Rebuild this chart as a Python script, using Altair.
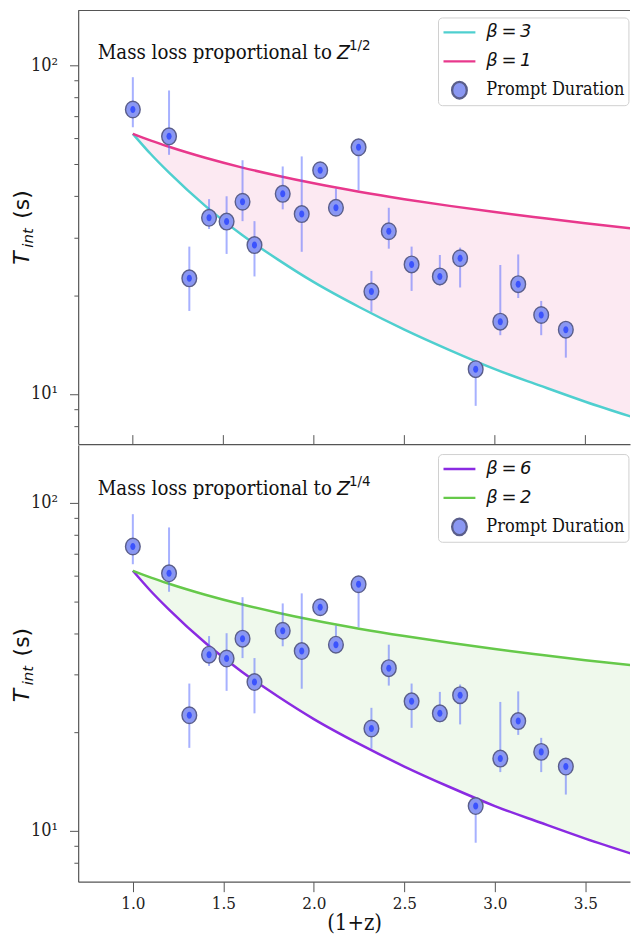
import altair as alt
import pandas as pd

# ---------------- data ----------------
z1 = [1.000, 1.200, 1.312, 1.421, 1.518, 1.606, 1.672, 1.828, 1.933, 2.035, 2.122,
      2.247, 2.318, 2.414, 2.540, 2.696, 2.808, 2.894, 3.030, 3.129, 3.256, 3.392]
t_int = [73.5, 60.9, 22.5, 34.4, 33.5, 38.5, 28.4, 40.7, 35.3, 48.0, 36.9,
         56.4, 20.5, 31.3, 24.8, 22.8, 25.9, 11.9, 16.6, 21.6, 17.4, 15.7]
t_hi = [92.2, 84.0, 28.1, 39.2, 40.0, 51.5, 33.6, 49.3, 52.9, 49.5, 42.2,
        59.8, 23.7, 36.9, 28.1, 26.5, 27.9, 12.4, 24.7, 26.6, 19.2, 16.4]
t_lo = [64.9, 53.5, 17.9, 31.8, 26.7, 33.6, 22.8, 36.5, 27.1, 46.5, 35.0,
        41.7, 17.8, 27.7, 20.6, 21.4, 21.1, 9.2, 15.1, 19.6, 15.1, 12.9]

curve_x = [1.0, 1.1, 1.2, 1.4, 1.6, 1.8, 2.0, 2.25, 2.5, 2.75, 3.0, 3.25, 3.5, 3.79]
curve_slow = [62.0, 59.1, 56.6, 52.4, 49.0, 46.2, 43.8, 41.3, 39.2, 37.4, 35.8, 34.4, 33.1, 31.8]
curve_fast = [62.0, 53.7, 47.2, 37.4, 30.6, 25.7, 21.9, 18.4, 15.7, 13.6, 11.9, 10.6, 9.47, 8.40]

x_ticks = [1.0, 1.5, 2.0, 2.5, 3.0, 3.5]
y_ticks = [8, 9, 10, 20, 30, 40, 50, 60, 70, 80, 90, 100]

panel_title = "Mass loss proportional to"
panel_base = "Z"
panel_exps = ["1/2", "1/4"]
fast_labels = ["β\u2009=\u20093", "β\u2009=\u20096"]
slow_labels = ["β\u2009=\u20091", "β\u2009=\u20092"]
point_label = "Prompt Duration"
x_title = "(1+z)"
y_title_parts = ["T", "int", "(s)"]

# ---------------- styling ----------------
SERIF = "DejaVu Serif Condensed, DejaVu Serif"
SANS = "DejaVu Sans"
AX = "#555555"
fast_cols = ["#4fcfcf", "#8a2be2"]
slow_cols = ["#e8388c", "#66c94a"]
band_cols = ["#fce9f2", "#eff9ec"]
ELL = "M0.46,0A0.46,0.52,0,1,1,-0.46,0A0.46,0.52,0,1,1,0.46,0Z"
INNER = "M0.16,0A0.16,0.22,0,1,1,-0.16,0A0.16,0.22,0,1,1,0.16,0Z"

W = 553.6
X_DOMAIN = [0.698, 3.7465]

df_pts = pd.DataFrame({"z": z1, "t": t_int, "lo": t_lo, "hi": t_hi,
                       "series": [point_label] * len(z1)})
df_cur = pd.DataFrame({"x": curve_x, "slow": curve_slow, "fast": curve_fast})
df_tk = pd.DataFrame({"v": x_ticks})
df_one = pd.DataFrame({"k": [0]})


def ytick_axis():
    return alt.Axis(
        values=y_ticks,
        labelExpr="datum.value == 100 ? '10²' : (datum.value == 10 ? '10¹' : '')",
        tickSize={"condition": {"test": "datum.value == 10 || datum.value == 100", "value": 8.7},
                  "value": 4.3},
        labelPadding=12, labelFont=SERIF, labelFontSize=18, labelColor="#222222",
        tickColor=AX, domainColor=AX, domainWidth=1.2, tickWidth=1, grid=False,
        title=None, labelBaseline="middle")


def txt(s, x, y, font, size, style="normal", angle=0):
    return alt.Chart(pd.DataFrame({"s": [s]})).mark_text(
        align="left", baseline="alphabetic", font=font, fontSize=size,
        fontStyle=style, angle=angle, color="#111111"
    ).encode(x=alt.value(x), y=alt.value(y), text="s:N")


def panel(i, height, ydom, is_top, title_y, sup_y, yt, legend_y):
    xs = alt.Scale(domain=X_DOMAIN, nice=False, zero=False)
    ys = alt.Scale(type="log", domain=ydom, nice=False)
    ya = ytick_axis()
    if is_top:
        xa_area = alt.Axis(labels=False, ticks=False, domain=True, title=None,
                           domainColor=AX, domainWidth=1.2, grid=False)
    else:
        xa_area = alt.Axis(values=x_ticks, format=".1f", labelFont=SERIF, labelFontSize=17,
                           labelColor="#222222", tickSize=10, tickColor=AX, domainColor=AX,
                           domainWidth=1.2, labelPadding=4, title=x_title, titleFont=SERIF,
                           titleFontSize=22, titleFontWeight="normal", titleColor="#111111",
                           titlePadding=1, grid=False)

    dom = [fast_labels[i], slow_labels[i], point_label]
    leg = alt.Legend(
        title=None, orient="none", legendX=361, legendY=legend_y, padding=4,
        cornerRadius=4, strokeColor="#d0d0d0", fillColor="white",
        symbolSize=1024, symbolStrokeWidth=2.3,
        labelFont={"expr": "datum.label == 'Prompt Duration' ? '%s' : '%s'" % (SERIF, SANS)},
        labelFontStyle={"expr": "datum.label == 'Prompt Duration' ? 'normal' : 'italic'"},
        labelFontSize=18, labelColor="#111111", labelOffset=9.5, rowPadding=7,
        clipHeight=22, labelLimit=300)

    area = alt.Chart(df_cur).mark_area(color=band_cols[i], interpolate="monotone", opacity=1, clip=True).encode(
        x=alt.X("x:Q", scale=xs, axis=xa_area), y=alt.Y("fast:Q", scale=ys, axis=ya), y2="slow:Q")
    l_fast = alt.Chart(df_cur).mark_line(color=fast_cols[i], strokeWidth=2.5, interpolate="monotone", clip=True).encode(
        x=alt.X("x:Q", scale=xs, axis=None), y=alt.Y("fast:Q", scale=ys, axis=ya))
    l_slow = alt.Chart(df_cur).mark_line(color=slow_cols[i], strokeWidth=2.5, interpolate="monotone", clip=True).encode(
        x=alt.X("x:Q", scale=xs, axis=None), y=alt.Y("slow:Q", scale=ys, axis=ya))
    err = alt.Chart(df_pts).mark_rule(color="#4f63ff", opacity=0.5, strokeWidth=2).encode(
        x=alt.X("z:Q", scale=xs, axis=None), y=alt.Y("lo:Q", scale=ys, axis=ya), y2="hi:Q")
    pts = alt.Chart(df_pts).mark_point(filled=True, size=1024, strokeWidth=1.4, opacity=1).encode(
        x=alt.X("z:Q", scale=xs, axis=None),
        y=alt.Y("t:Q", scale=ys, axis=ya),
        shape=alt.Shape("series:N", scale=alt.Scale(domain=dom, range=["stroke", "stroke", ELL]), legend=leg),
        fill=alt.Fill("series:N", scale=alt.Scale(domain=dom, range=["transparent", "transparent", "#8a97f2"]), legend=leg),
        stroke=alt.Stroke("series:N", scale=alt.Scale(domain=dom, range=[fast_cols[i], slow_cols[i], "#5a5e8a"]), legend=leg),
    )
    inner = alt.Chart(df_pts).mark_point(filled=True, size=1024, shape=INNER, color="#2d47ff", opacity=0.85).encode(
        x=alt.X("z:Q", scale=xs, axis=None), y=alt.Y("t:Q", scale=ys, axis=ya))

    layers = [area]
    if is_top:
        tk = alt.Chart(df_tk).mark_rule(color=AX, strokeWidth=1).encode(
            x=alt.X("v:Q", scale=xs, axis=None), y=alt.value(height - 9), y2=alt.value(height))
        spine = alt.Chart(df_one).mark_rule(color=AX, strokeWidth=1.2).encode(
            x=alt.value(0), x2=alt.value(W), y=alt.value(0))
        layers += [tk, spine]
    layers += [l_fast, l_slow, err, pts, inner]
    layers += [
        txt(panel_title, 19.6, title_y, SERIF, 20.3),
        txt(panel_base, 259.6, title_y, SANS, 19, "italic"),
        txt(panel_exps[i], 271.6, sup_y, SANS, 13.5),
        txt(y_title_parts[0], -49.4, yt[0], SANS, 22, "italic", 270),
        txt(y_title_parts[1], -45.5, yt[1], SANS, 15, "italic", 270),
        txt(y_title_parts[2], -49.4, yt[2], SANS, 22, "normal", 270),
    ]
    ch = alt.layer(*layers).properties(width=W, height=height).resolve_axis(x="independent")
    return ch


top = panel(0, 435, [7.036, 147.2], True, 48.7, 40, [255, 238, 209], 7)
bot = panel(1, 438, [7.0, 149.7], False, 50, 41, [258, 241, 212], 9)

chart = alt.vconcat(top, bot, spacing=0).resolve_scale(
    x="independent", y="independent", shape="independent", fill="independent", stroke="independent"
).properties(padding={"left": 2.4, "top": 0, "right": 0, "bottom": 0}).configure_view(strokeWidth=0)

chart.save("out.html", embed_options={"renderer": "svg", "actions": False})
